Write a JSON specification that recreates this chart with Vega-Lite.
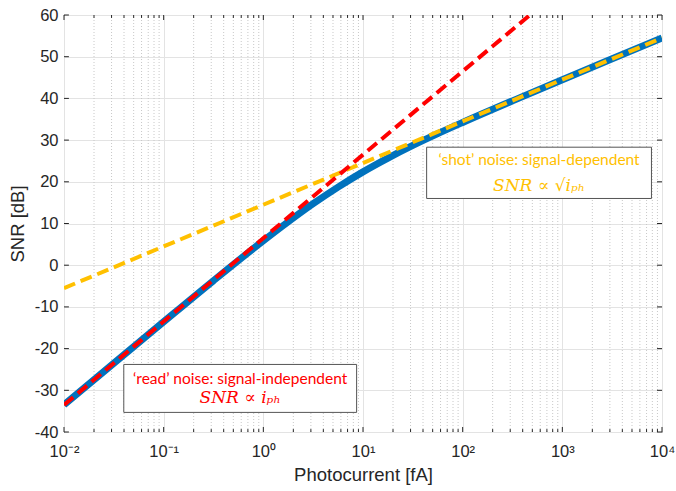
{
  "$schema": "https://vega.github.io/schema/vega-lite/v6.json",
  "width": 598,
  "height": 417,
  "autosize": "none",
  "padding": {"left": 64, "top": 15, "right": 14, "bottom": 59},
  "background": "white",
  "config": {
    "font": "Liberation Sans",
    "view": {"stroke": "#262626", "strokeWidth": 1},
    "axis": {"labelFont": "Liberation Sans", "titleFont": "Liberation Sans", "labelColor": "#262626", "titleColor": "#262626", "labelFontSize": 16.5, "titleFontSize": 18.5, "titleFontWeight": "normal", "domain": false, "ticks": false, "gridColor": "#e3e3e3", "gridWidth": 1, "labelFlush": false, "labelOverlap": false}
  },
  "datasets": {
    "xminor": [{"x":0.02},{"x":0.03},{"x":0.04},{"x":0.05},{"x":0.06},{"x":0.07},{"x":0.08},{"x":0.09},
      {"x":0.2},{"x":0.3},{"x":0.4},{"x":0.5},{"x":0.6},{"x":0.7},{"x":0.8},{"x":0.9},
      {"x":2},{"x":3},{"x":4},{"x":5},{"x":6},{"x":7},{"x":8},{"x":9},
      {"x":20},{"x":30},{"x":40},{"x":50},{"x":60},{"x":70},{"x":80},{"x":90},
      {"x":200},{"x":300},{"x":400},{"x":500},{"x":600},{"x":700},{"x":800},{"x":900},
      {"x":2000},{"x":3000},{"x":4000},{"x":5000},{"x":6000},{"x":7000},{"x":8000},{"x":9000}],
    "xmajor": [{"x":0.01},{"x":0.1},{"x":1},{"x":10},{"x":100},{"x":1000},{"x":10000}],
    "ymajor": [{"y":-40},{"y":-30},{"y":-20},{"y":-10},{"y":0},{"y":10},{"y":20},{"y":30},{"y":40},{"y":50},{"y":60}],
    "snr": [
      {"i":0.01,"snr":-33.51},{"i":0.0316,"snr":-23.52},{"i":0.1,"snr":-13.57},{"i":0.316,"snr":-3.71},
      {"i":1,"snr":5.86},{"i":1.78,"snr":10.42},{"i":3.16,"snr":14.74},{"i":5.62,"snr":18.73},
      {"i":10,"snr":22.38},{"i":17.8,"snr":25.68},{"i":31.6,"snr":28.71},{"i":56.2,"snr":31.54},
      {"i":100,"snr":34.23},{"i":316,"snr":39.41},{"i":1000,"snr":44.47},{"i":3162,"snr":49.49},{"i":10000,"snr":54.5}
    ],
    "read": [{"i":0.01,"snr":-33.5},{"i":473,"snr":60}],
    "shot": [{"i":0.01,"snr":-5.5},{"i":10000,"snr":54.5}]
  },
  "layer": [
    {
      "data": {"name": "xminor"},
      "mark": {"type": "rule", "color": "#c8c8c8", "strokeDash": [1, 2], "strokeWidth": 1},
      "encoding": {
        "x": {"field": "x", "type": "quantitative",
          "scale": {"type": "log", "domain": [0.01, 10000], "nice": false},
          "axis": {"title": "Photocurrent [fA]", "values": [0.01, 0.1, 1, 10, 100, 1000, 10000], "grid": true, "labelPadding": 11, "titlePadding": 6,
            "labelExpr": "['10⁻²','10⁻¹','10⁰','10¹','10²','10³','10⁴'][round(log(datum.value)/LN10)+2]"}},
        "y": {"datum": -40, "type": "quantitative",
          "scale": {"domain": [-40, 60], "nice": false},
          "axis": {"title": "SNR [dB]", "values": [-40,-30,-20,-10,0,10,20,30,40,50,60], "grid": true, "labelPadding": 6, "titlePadding": 7,
            "labelExpr": "'' + datum.value"}},
        "y2": {"datum": 60}
      }
    },
    {
      "data": {"name": "xminor"},
      "mark": {"type": "rule", "color": "#262626", "strokeWidth": 1},
      "encoding": {"x": {"field": "x", "type": "quantitative"}, "y": {"datum": -40}, "y2": {"datum": -39.3}}
    },
    {
      "data": {"name": "xminor"},
      "mark": {"type": "rule", "color": "#262626", "strokeWidth": 1},
      "encoding": {"x": {"field": "x", "type": "quantitative"}, "y": {"datum": 60}, "y2": {"datum": 59.3}}
    },
    {
      "data": {"name": "xmajor"},
      "mark": {"type": "rule", "color": "#262626", "strokeWidth": 1},
      "encoding": {"x": {"field": "x", "type": "quantitative"}, "y": {"datum": -40}, "y2": {"datum": -38.8}}
    },
    {
      "data": {"name": "xmajor"},
      "mark": {"type": "rule", "color": "#262626", "strokeWidth": 1},
      "encoding": {"x": {"field": "x", "type": "quantitative"}, "y": {"datum": 60}, "y2": {"datum": 58.8}}
    },
    {
      "data": {"name": "ymajor"},
      "mark": {"type": "rule", "color": "#262626", "strokeWidth": 1},
      "encoding": {"y": {"field": "y", "type": "quantitative"}, "x": {"datum": 0.01}, "x2": {"datum": 0.0112}}
    },
    {
      "data": {"name": "ymajor"},
      "mark": {"type": "rule", "color": "#262626", "strokeWidth": 1},
      "encoding": {"y": {"field": "y", "type": "quantitative"}, "x": {"datum": 8913}, "x2": {"datum": 10000}}
    },
    {
      "data": {"name": "snr"},
      "mark": {"type": "line", "color": "#0072BD", "strokeWidth": 7, "interpolate": "monotone", "clip": true},
      "encoding": {"x": {"field": "i", "type": "quantitative"}, "y": {"field": "snr", "type": "quantitative"}}
    },
    {
      "data": {"name": "shot"},
      "mark": {"type": "line", "color": "#FFC000", "strokeWidth": 4, "strokeDash": [12, 6], "clip": true},
      "encoding": {"x": {"field": "i", "type": "quantitative"}, "y": {"field": "snr", "type": "quantitative"}}
    },
    {
      "data": {"name": "read"},
      "mark": {"type": "line", "color": "#FF0000", "strokeWidth": 4, "strokeDash": [12, 6], "clip": true},
      "encoding": {"x": {"field": "i", "type": "quantitative"}, "y": {"field": "snr", "type": "quantitative"}}
    },
    {
      "data": {"values": [{"label": "shot"}]},
      "mark": {"type": "rect", "fill": "white", "stroke": "#555555", "strokeWidth": 1},
      "encoding": {"x": {"datum": 43.5}, "x2": {"datum": 7840}, "y": {"datum": 28.3}, "y2": {"datum": 16.0}}
    },
    {
      "data": {"values": [{"label": "read"}]},
      "mark": {"type": "rect", "fill": "white", "stroke": "#555555", "strokeWidth": 1},
      "encoding": {"x": {"datum": 0.0398}, "x2": {"datum": 8.63}, "y": {"datum": -23.8}, "y2": {"datum": -35.3}}
    },
    {
      "data": {"values": [{"t": "‘shot’ noise: signal-dependent"}]},
      "mark": {"type": "text", "color": "#FFC000", "font": "Lato", "fontSize": 15.5, "align": "center", "baseline": "middle"},
      "encoding": {"text": {"field": "t"}, "x": {"datum": 584}, "y": {"datum": 25.2}}
    },
    {
      "data": {"values": [{"t": "SNR ∝ √iₚₕ"}]},
      "mark": {"type": "text", "color": "#FFC000", "font": "DejaVu Serif", "fontStyle": "italic", "fontSize": 17, "align": "center", "baseline": "middle"},
      "encoding": {"text": {"field": "t"}, "x": {"datum": 584}, "y": {"datum": 19.1}}
    },
    {
      "data": {"values": [{"t": "‘read’ noise: signal-independent"}]},
      "mark": {"type": "text", "color": "#FF0000", "font": "Lato", "fontSize": 15.5, "align": "center", "baseline": "middle"},
      "encoding": {"text": {"field": "t"}, "x": {"datum": 0.585}, "y": {"datum": -27.4}}
    },
    {
      "data": {"values": [{"t": "SNR ∝ iₚₕ"}]},
      "mark": {"type": "text", "color": "#FF0000", "font": "DejaVu Serif", "fontStyle": "italic", "fontSize": 17, "align": "center", "baseline": "middle"},
      "encoding": {"text": {"field": "t"}, "x": {"datum": 0.585}, "y": {"datum": -31.9}}
    }
  ]
}
